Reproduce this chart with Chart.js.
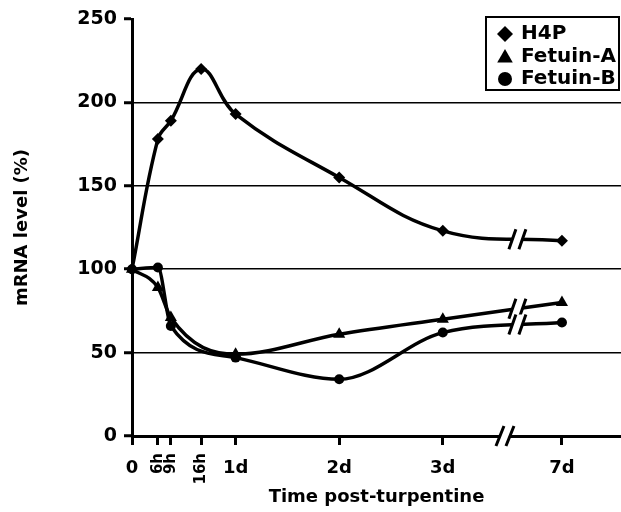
<!DOCTYPE html>
<html><head><meta charset="utf-8">
<script src="https://cdn.jsdelivr.net/npm/chart.js@4/dist/chart.umd.min.js"></script>
<style>html,body{margin:0;padding:0;background:#fff;}</style>
</head><body>
<canvas id="c" width="621" height="512"></canvas>
<script>
// ---- data ----
const timeLabels = ['0','6h','9h','16h','1d','2d','3d','7d'];
const timeDays = [0, 0.25, 0.375, 0.667, 1, 2, 3, 7];
const rotatedLabels = ['6h','9h','16h'];
const seriesNames = ['H4P','Fetuin-A','Fetuin-B'];
const h4p     = [100, 178, 189, 220, 193, 155, 123, 117];
const fetuinA = [100,  89,  71, null, 49,  61,  70,  80];
const fetuinB = [100, 101,  66, null, 47,  34,  62,  68];
const yTicks = [0, 50, 100, 150, 200, 250];
const pointStyles = ['rectRot','triangle','circle'];

// broken axis: days after 3d are compressed
const COMPRESS = 0.2875;
function axisPos(d){ return d <= 3 ? d : 3 + (d - 3) * COMPRESS; }
const AXIS_BREAK = 3.6, LINE_BREAK = 3.72;

const FONT = "'DejaVu Sans', sans-serif";
Chart.defaults.font.family = FONT;
Chart.defaults.color = '#000';

function toPoints(vals){
  return timeDays.map((d,i)=> vals[i]==null ? null : {x: axisPos(d), y: vals[i]}).filter(p=>p);
}
const seriesVals = [h4p, fetuinA, fetuinB];
const radii = [6, 7, 5];
const interp = ['default', 'monotone', 'monotone'];

const datasets = seriesNames.map((name,i)=>({
  label: name,
  data: toPoints(seriesVals[i]),
  borderColor: '#000',
  backgroundColor: '#000',
  borderWidth: 3.5,
  pointStyle: pointStyles[i],
  pointRadius: radii[i],
  pointBorderWidth: 0,
  pointBackgroundColor: '#000',
  tension: 0.4,
  cubicInterpolationMode: interp[i],
  clip: false,
  fill: false
}));

function drawBreak(ctx, x, y, h, s, g){
  ctx.save();
  ctx.fillStyle = '#fff';
  ctx.beginPath();
  ctx.moveTo(x - g + s, y - h);
  ctx.lineTo(x + g + s, y - h);
  ctx.lineTo(x + g - s, y + h);
  ctx.lineTo(x - g - s, y + h);
  ctx.closePath();
  ctx.fill();
  ctx.strokeStyle = '#000';
  ctx.lineWidth = 3;
  ctx.beginPath();
  ctx.moveTo(x - g - s, y + h); ctx.lineTo(x - g + s, y - h);
  ctx.moveTo(x + g - s, y + h); ctx.lineTo(x + g + s, y - h);
  ctx.stroke();
  ctx.restore();
}

function bezierYAt(p0, p1, px){
  const x0=p0.x, x1=p0.cp2x ?? p0.x, x2=p1.cp1x ?? p1.x, x3=p1.x;
  const y0=p0.y, y1=p0.cp2y ?? p0.y, y2=p1.cp1y ?? p1.y, y3=p1.y;
  const bx = t => (1-t)**3*x0 + 3*(1-t)**2*t*x1 + 3*(1-t)*t*t*x2 + t**3*x3;
  const by = t => (1-t)**3*y0 + 3*(1-t)**2*t*y1 + 3*(1-t)*t*t*y2 + t**3*y3;
  let lo=0, hi=1;
  for(let k=0;k<50;k++){ const m=(lo+hi)/2; if(bx(m)<px) lo=m; else hi=m; }
  return by((lo+hi)/2);
}

function drawMarker(ctx, style, x, y, r){
  ctx.beginPath();
  if(style==='rectRot'){
    ctx.moveTo(x, y-r); ctx.lineTo(x+r, y); ctx.lineTo(x, y+r); ctx.lineTo(x-r, y); ctx.closePath();
  } else if(style==='triangle'){
    ctx.moveTo(x, y-r);
    ctx.lineTo(x + r*Math.sin(2*Math.PI/3), y - r*Math.cos(2*Math.PI/3));
    ctx.lineTo(x + r*Math.sin(4*Math.PI/3), y - r*Math.cos(4*Math.PI/3));
    ctx.closePath();
  } else {
    ctx.arc(x, y, r, 0, Math.PI*2);
  }
  ctx.fill();
}

const customPlugin = {
  id: 'custom',
  beforeDraw(chart){
    const ctx = chart.ctx;
    ctx.save(); ctx.fillStyle='#fff'; ctx.fillRect(0,0,chart.width,chart.height); ctx.restore();
  },
  afterDatasetsDraw(chart){
    const ctx = chart.ctx;
    const xs = chart.scales.x, ys = chart.scales.y;
    const bx = xs.getPixelForValue(LINE_BREAK);
    chart.data.datasets.forEach((ds, i)=>{
      const pts = chart.getDatasetMeta(i).data;
      for(let k=0;k<pts.length-1;k++){
        if(pts[k].x <= bx && pts[k+1].x >= bx){
          const y = bezierYAt(pts[k], pts[k+1], bx);
          drawBreak(ctx, bx, y, 10, 3.5, 5);
        }
      }
    });
    drawBreak(ctx, xs.getPixelForValue(AXIS_BREAK), ys.getPixelForValue(0), 10, 4, 5);
  },
  afterDraw(chart){
    const ctx = chart.ctx;
    const xs = chart.scales.x;
    ctx.save();
    ctx.fillStyle = '#000';
    timeLabels.forEach((lab, i)=>{
      const px = xs.getPixelForValue(axisPos(timeDays[i]));
      if(rotatedLabels.includes(lab)){
        ctx.save();
        ctx.translate(px, 453);
        ctx.rotate(-Math.PI/2);
        ctx.font = "bold 15px " + FONT;
        ctx.textAlign = 'right';
        ctx.textBaseline = 'middle';
        ctx.fillText(lab, 0, 0);
        ctx.restore();
      } else {
        ctx.font = "bold 18px " + FONT;
        ctx.textAlign = 'center';
        ctx.textBaseline = 'middle';
        ctx.fillText(lab, px, 468);
      }
    });
    ctx.restore();
    // legend
    ctx.save();
    const lx = 486, ly = 17, lw = 133, lh = 73;
    ctx.fillStyle = '#fff';
    ctx.fillRect(lx, ly, lw, lh);
    ctx.strokeStyle = '#000';
    ctx.lineWidth = 2;
    ctx.strokeRect(lx, ly, lw, lh);
    const rowsY = [34, 56.5, 79];
    const mr = [8, 9, 7];
    ctx.fillStyle = '#000';
    ctx.font = "bold 20px " + FONT;
    ctx.textAlign = 'left';
    ctx.textBaseline = 'middle';
    chart.data.datasets.forEach((ds, i)=>{
      drawMarker(ctx, pointStyles[i], 505, rowsY[i] + (i===1?1.5:0), mr[i]);
      ctx.fillText(ds.label, 521, rowsY[i]);
    });
    ctx.restore();
  }
};

new Chart(document.getElementById('c'), {
  type: 'line',
  data: { datasets },
  plugins: [customPlugin],
  options: {
    responsive: false,
    animation: false,
    devicePixelRatio: 1,
    layout: { autoPadding: false, padding: { top: 19, left: 0, right: 0, bottom: 0 } },
    plugins: { legend: { display: false }, tooltip: { enabled: false } },
    scales: {
      x: {
        type: 'linear', min: 0, max: 4.72,
        afterBuildTicks: s => { s.ticks = timeDays.map(d => ({ value: axisPos(d) })); },
        afterFit: s => { s.height = 76; },
        ticks: { display: false },
        grid: { drawOnChartArea: false, drawTicks: true, tickLength: 9, tickWidth: 3, tickColor: '#000', color: '#000' },
        border: { display: true, color: '#000', width: 3 },
        title: { display: true, text: 'Time post-turpentine', color: '#000',
                 font: { size: 18, weight: 'bold' }, padding: { top: 0, bottom: 4 } }
      },
      y: {
        min: 0, max: 250,
        afterBuildTicks: s => { s.ticks = yTicks.map(v => ({ value: v })); },
        afterFit: s => { s.width = 132; },
        ticks: { font: { size: 19, weight: 'bold' }, padding: 7, color: '#000' },
        grid: {
          color: c => (c.tick && c.tick.value === 250) ? 'rgba(0,0,0,0)' : '#000',
          lineWidth: 1.5, tickLength: 8, tickWidth: 3, tickColor: '#000'
        },
        border: { display: true, color: '#000', width: 3 },
        title: { display: true, text: 'mRNA level (%)', color: '#000',
                 font: { size: 18, weight: 'bold' }, padding: { top: 12, bottom: 0 } }
      }
    }
  }
});
</script>
</body></html>
